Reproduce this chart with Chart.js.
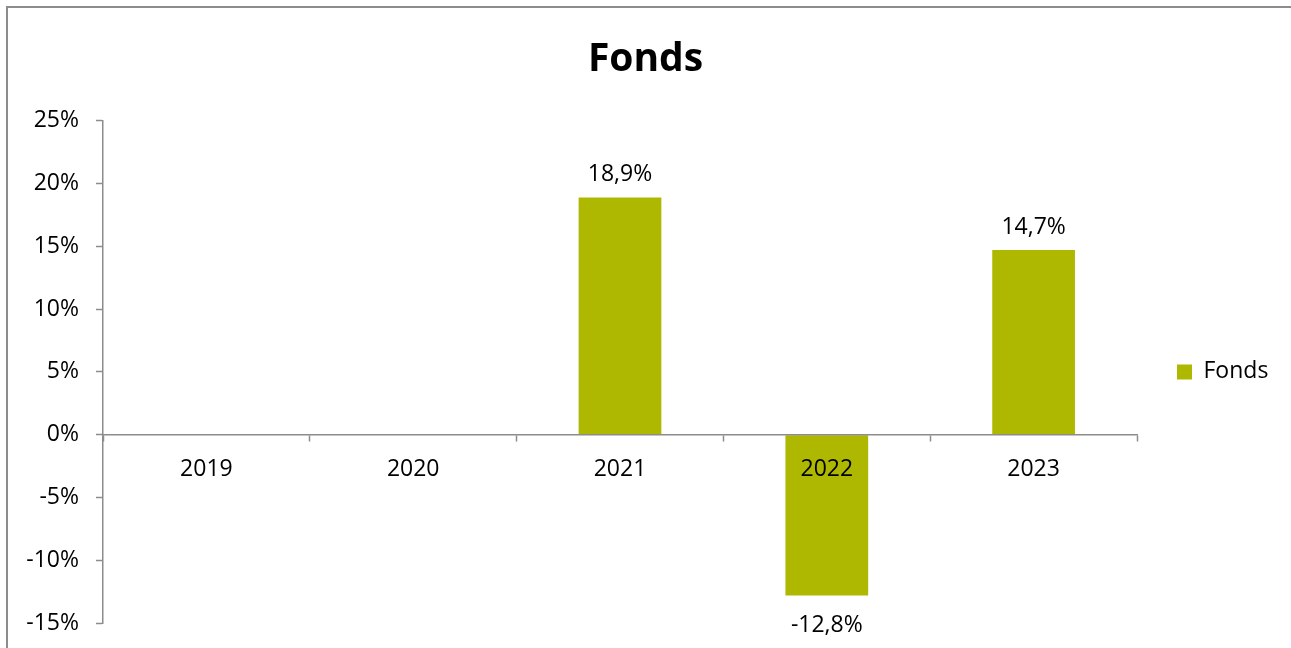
<!DOCTYPE html>
<html>
<head>
<meta charset="utf-8">
<script src="https://cdn.jsdelivr.net/npm/chart.js@4/dist/chart.umd.min.js"></script>
<style>
  html, body { margin: 0; padding: 0; background: #fff; overflow: hidden; }
  #wrap { position: relative; width: 1291px; height: 648px; overflow: hidden; }
  #frame { position: absolute; left: 6px; top: 6px; width: 2000px; height: 2000px; border-left: 2px solid #8c8c8c; border-top: 2px solid #8c8c8c; box-sizing: border-box; }
  canvas { position: absolute; left: 0; top: 0; }
</style>
</head>
<body>
<div id="wrap">
  <div id="frame"></div>
  <canvas id="c" width="1291" height="648"></canvas>
</div>
<script>
const categories = ['2019', '2020', '2021', '2022', '2023'];
const fondsValues = [null, null, 18.9, -12.8, 14.7];
const seriesName = 'Fonds';
const chartTitle = 'Fonds';
const yMin = -15;
const yMax = 25;
const yStep = 5;

const FONT = "'Open Sans', 'Liberation Sans', sans-serif";
const AXIS_COLOR = '#8c8c8c';
const BAR_COLOR = '#AEB800';

Chart.defaults.color = '#000';
Chart.defaults.font.family = FONT;
Chart.defaults.font.size = 23;

const fmt = v => v.toFixed(1).replace('.', ',') + '%';

const dataLabels = {
  id: 'dataLabels',
  afterDatasetsDraw(chart) {
    const ctx = chart.ctx;
    const meta = chart.getDatasetMeta(0);
    ctx.save();
    ctx.font = '23px ' + FONT;
    ctx.fillStyle = '#000';
    ctx.textAlign = 'center';
    ctx.textBaseline = 'middle';
    meta.data.forEach((bar, i) => {
      const v = chart.data.datasets[0].data[i];
      if (v === null || v === undefined) return;
      const y = v >= 0 ? bar.y - 23 : bar.y + 30;
      ctx.fillText(fmt(v), bar.x, y);
    });
    ctx.restore();
  }
};

const legendFix = {
  id: 'legendFix',
  afterInit(chart) {
    const lg = chart.legend;
    if (lg) {
      const orig = lg.fit;
      lg.fit = function () { orig.call(this); this.width = 154; };
    }
  },
  afterLayout(chart) {
    const lg = chart.legend;
    if (lg) {
      lg.left = chart.chartArea.right + 30;
      lg.right = 1291;
    }
  }
};

new Chart(document.getElementById('c'), {
  type: 'bar',
  data: {
    labels: categories,
    datasets: [{
      label: seriesName,
      data: fondsValues,
      backgroundColor: BAR_COLOR,
      borderWidth: 0,
      barPercentage: 0.4,
      categoryPercentage: 1.0
    }]
  },
  options: {
    responsive: false,
    animation: false,
    layout: { padding: { left: 0, right: 0, top: 0, bottom: 25 } },
    plugins: {
      title: {
        display: true,
        text: chartTitle,
        font: { size: 39, weight: 'bold', family: FONT },
        color: '#000',
        padding: { top: 36, bottom: 38 }
      },
      legend: {
        display: true,
        position: 'right',
        fullSize: false,
        labels: {
          boxWidth: 15,
          boxHeight: 15,
          padding: 10,
          font: { size: 23, family: FONT },
          color: '#000'
        }
      },
      tooltip: { enabled: false }
    },
    scales: {
      x: {
        position: { y: 0 },
        afterFit(scale) { scale.height = 0; },
        grid: {
          display: true,
          offset: true,
          drawOnChartArea: false,
          drawTicks: true,
          tickLength: 6,
          tickWidth: 1.5,
          tickColor: AXIS_COLOR,
          z: 1
        },
        border: { display: true, color: AXIS_COLOR, width: 1.5, z: 1 },
        ticks: { z: 1, padding: 15, maxRotation: 0, color: '#000', font: { size: 23, family: FONT } }
      },
      y: {
        min: yMin,
        max: yMax,
        afterFit(scale) {
          scale.width = 103;
          scale.paddingTop = 0;
          scale.paddingBottom = 0;
        },
        ticks: {
          stepSize: yStep,
          padding: 17,
          color: '#000',
          font: { size: 23, family: FONT },
          callback: v => v + '%'
        },
        grid: {
          display: true,
          drawOnChartArea: false,
          drawTicks: true,
          tickLength: 7,
          tickWidth: 1.5,
          tickColor: AXIS_COLOR
        },
        border: { display: true, color: AXIS_COLOR, width: 1.5 }
      }
    }
  },
  plugins: [dataLabels, legendFix]
});
</script>
</body>
</html>
